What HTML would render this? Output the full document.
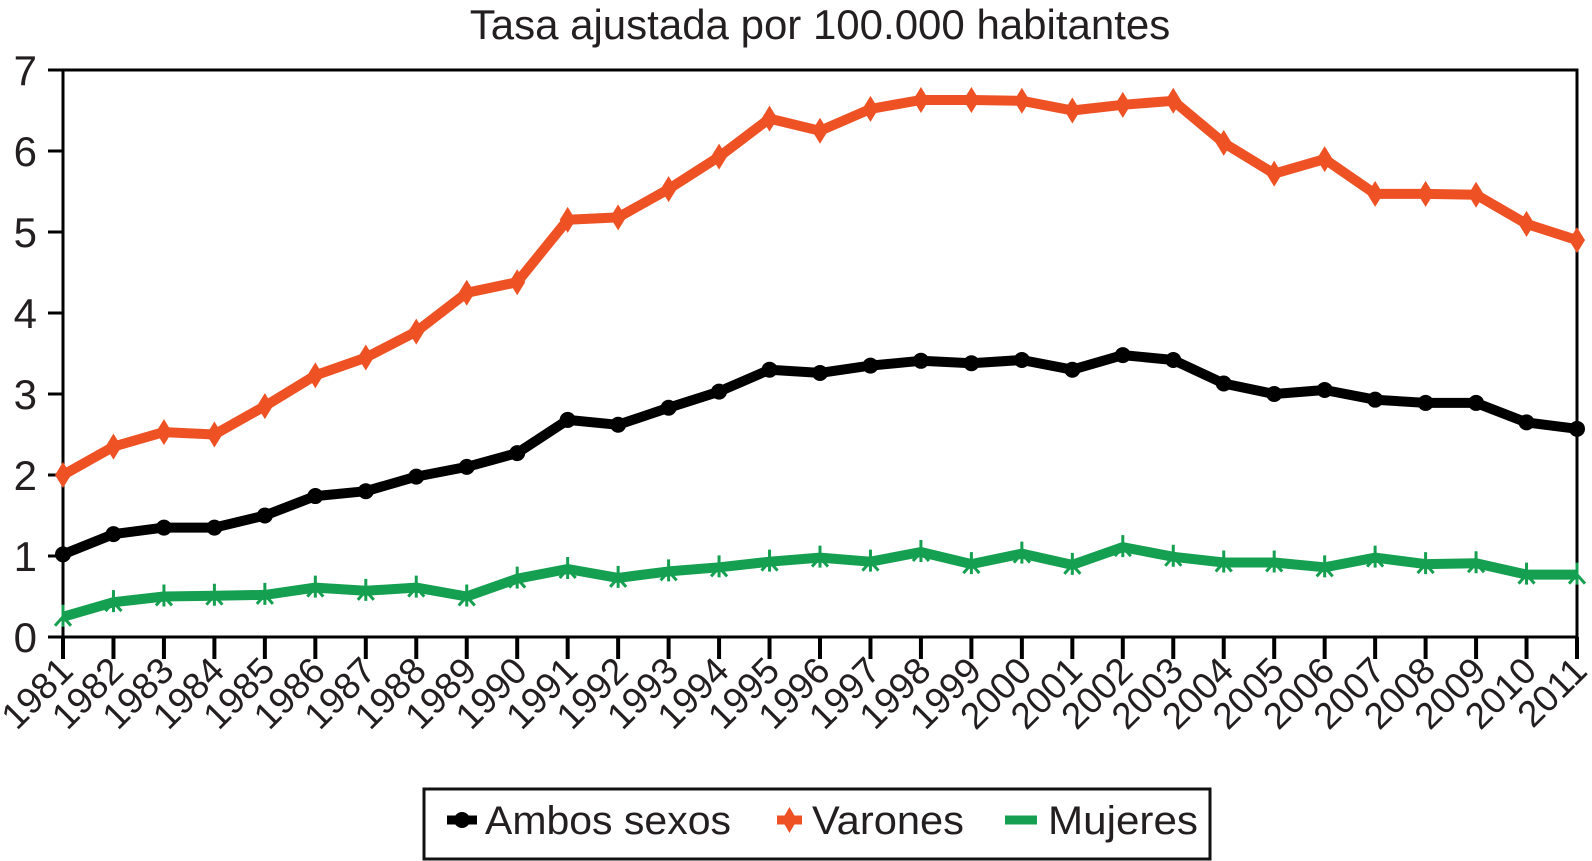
<!DOCTYPE html>
<html><head><meta charset="utf-8">
<style>
html,body{margin:0;padding:0;background:#fff;}
svg{display:block;font-family:"Liberation Sans",Arial,sans-serif;}
</style></head>
<body>
<svg id="chart" width="1592" height="861" viewBox="0 0 1592 861">
<text x="820" y="39" font-size="42" text-anchor="middle" fill="#231f20">Tasa ajustada por 100.000 habitantes</text>
<g id="grid"></g>
<g id="series"></g>
<rect x="424" y="789" width="786" height="70" fill="none" stroke="#111" stroke-width="3"/>
<g>
<line x1="447" y1="820" x2="477" y2="820" stroke="#000" stroke-width="9"/>
<circle cx="462" cy="820" r="8" fill="#000"/>
<text x="485" y="834" font-size="40" textLength="246" lengthAdjust="spacingAndGlyphs" fill="#231f20">Ambos sexos</text>
</g>
<g>
<line x1="777" y1="820" x2="802" y2="820" stroke="#ee5224" stroke-width="9"/>
<path d="M789.5 807 L797 820 L789.5 833 L782 820 Z" fill="#ee5224"/>
<text x="812" y="834" font-size="40" textLength="152" lengthAdjust="spacingAndGlyphs" fill="#231f20">Varones</text>
</g>
<g>
<line x1="1005" y1="820" x2="1037" y2="820" stroke="#14a050" stroke-width="9"/>
<text x="1048" y="834" font-size="40" textLength="150" lengthAdjust="spacingAndGlyphs" fill="#231f20">Mujeres</text>
</g>
</svg>
<script>
const years = [1981,1982,1983,1984,1985,1986,1987,1988,1989,1990,1991,1992,1993,1994,1995,1996,1997,1998,1999,2000,2001,2002,2003,2004,2005,2006,2007,2008,2009,2010,2011];
const ambos = [1.02,1.27,1.35,1.35,1.5,1.74,1.8,1.98,2.1,2.27,2.68,2.62,2.83,3.03,3.3,3.26,3.35,3.41,3.38,3.42,3.3,3.48,3.42,3.13,3.0,3.05,2.93,2.89,2.89,2.65,2.57];
const varones = [2.0,2.35,2.53,2.5,2.85,3.23,3.45,3.77,4.25,4.38,5.15,5.18,5.53,5.93,6.4,6.25,6.52,6.63,6.63,6.62,6.5,6.57,6.62,6.1,5.72,5.9,5.47,5.47,5.46,5.1,4.9];
const mujeres = [0.25,0.43,0.5,0.51,0.52,0.61,0.57,0.61,0.5,0.72,0.84,0.73,0.81,0.86,0.93,0.98,0.93,1.05,0.9,1.03,0.89,1.11,0.99,0.92,0.92,0.86,0.98,0.9,0.91,0.77,0.77];
const yTicks = [0,1,2,3,4,5,6,7];

const NS = "http://www.w3.org/2000/svg";
const L = 63, R = 1577, T = 70, B = 637, YMAX = 7;
function xPos(i){ return L + (R - L) * i / (years.length - 1); }
function yPos(v){ return B - (B - T) * v / YMAX; }
function mk(tag, attrs, parent){
  const e = document.createElementNS(NS, tag);
  for (const k in attrs) e.setAttribute(k, attrs[k]);
  parent.appendChild(e);
  return e;
}
const grid = document.getElementById('grid');
const ser = document.getElementById('series');

const frame = mk('rect', {x:L, y:T, width:R-L, height:B-T, fill:'none', stroke:'#000', 'stroke-width':3}, grid);



yTicks.forEach(v => {
  const y = yPos(v);
  const t = mk('line', {x1:L-15, x2:L, y1:y, y2:y, stroke:'#000', 'stroke-width':3}, grid);
  
  
  const lb = mk('text', {x:37, y:y+15, 'font-size':42, 'text-anchor':'end', fill:'#231f20'}, grid);
  lb.textContent = v;
  
  
});
years.forEach((yr, i) => {
  const x = xPos(i);
  const t = mk('line', {x1:x, x2:x, y1:B, y2:B+22, stroke:'#000', 'stroke-width':4}, grid);
  
  
  const lb = mk('text', {x:x+12, y:B+36, 'font-size':37, 'text-anchor':'end', fill:'#231f20', transform:'rotate(-45 '+(x+12)+' '+(B+36)+')'}, grid);
  lb.textContent = yr;
  
  
});

function drawSeries(vals, color, name, marker){
  const g = mk('g', {}, ser);
  
  
  const pts = vals.map((v,i) => xPos(i).toFixed(1) + ',' + yPos(v).toFixed(1)).join(' ');
  const pl = mk('polyline', {points:pts, fill:'none', stroke:color, 'stroke-width':10, 'stroke-linejoin':'round'}, g);
  
  
  vals.forEach((v,i) => {
    const x = xPos(i), y = yPos(v);
    let m;
    if (marker === 'circle') m = mk('circle', {cx:x, cy:y, r:8, fill:color}, g);
    else if (marker === 'diamond') m = mk('path', {d:`M${x} ${y-13} L${x+8} ${y} L${x} ${y+13} L${x-8} ${y} Z`, fill:color}, g);
    else m = mk('path', {d:`M${x} ${y-12} L${x} ${y+10} M${x-8} ${y+9} L${x} ${y} L${x+8} ${y+9}`, stroke:color, 'stroke-width':3, fill:'none'}, g);
    
    
  });
}
drawSeries(varones, '#ee5224', 'varones', 'diamond');
drawSeries(ambos, '#000000', 'ambos', 'circle');
drawSeries(mujeres, '#14a050', 'mujeres', 'star');
</script>
</body></html>
